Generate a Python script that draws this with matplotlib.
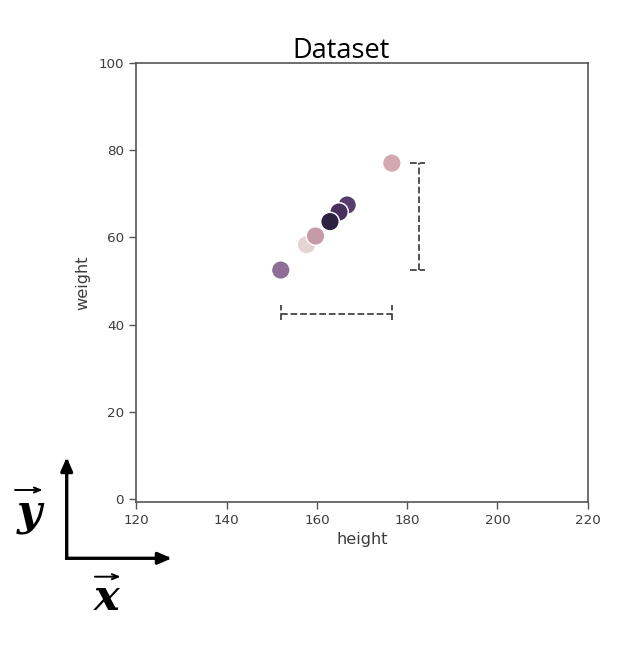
import matplotlib
matplotlib.use("Agg")
import matplotlib.pyplot as plt
import seaborn as sns
import pandas as pd

# values
height = [152.0, 176.6, 166.7, 164.9, 162.9, 157.7, 159.7]
weight = [52.5, 77.0, 67.4, 65.8, 63.6, 58.3, 60.3]
group = ["a", "b", "c", "d", "e", "f", "g"]

# point colours (light-to-dark purple shading of the reference)
point_colors = ["#8f6e96", "#d4a8b0", "#583c6e", "#48305f",
                "#2d2142", "#e6d4d4", "#c49ba6"]

bracket_y = 42.4   # level of the horizontal (height) range bracket
bracket_x = 182.6  # position of the vertical (weight) range bracket

sns.set_style("ticks")
plt.rcParams["font.family"] = ["DejaVu Sans"]

df = pd.DataFrame({"height": height, "weight": weight, "group": group})

fig = plt.figure(figsize=(6.3, 6.54), dpi=100)
ax = fig.add_axes([0.2163, 0.2320, 0.7167, 0.6721])

sns.scatterplot(data=df, x="height", y="weight", hue="group",
                palette=dict(zip(group, point_colors)), s=180,
                legend=False, ax=ax)

# range brackets, dashed
line_kw = dict(color="#444444", linestyle="--", linewidth=1.3)
x0, x1 = min(height), max(height)
ax.plot([x0, x1], [bracket_y, bracket_y], **line_kw)
ax.plot([x0, x0], [bracket_y - 1.3, bracket_y + 2.1], **line_kw)
ax.plot([x1, x1], [bracket_y - 1.3, bracket_y + 2.1], **line_kw)

y0, y1 = min(weight), max(weight)
ax.plot([bracket_x, bracket_x], [y0, y1], **line_kw)
ax.plot([bracket_x - 2.0, bracket_x + 1.4], [y0, y0], **line_kw)
ax.plot([bracket_x - 2.0, bracket_x + 1.4], [y1, y1], **line_kw)

ax.set_xlim(120, 220)
ax.set_ylim(-0.7, 100)
ax.set_xticks([120, 140, 160, 180, 200, 220])
ax.set_yticks([0, 20, 40, 60, 80, 100])
ax.set_xlabel("height", fontsize=11.6, color="#3c3c3c", labelpad=3)
ax.set_ylabel("weight", fontsize=11.6, color="#3c3c3c", labelpad=6)
ax.tick_params(labelsize=9.7, labelcolor="#3c3c3c", color="#555555",
               length=4.8, width=1.0, pad=4)
for sp in ax.spines.values():
    sp.set_color("#555555")
    sp.set_linewidth(1.2)

fig.text(0.5413, 0.9113, "Dataset", fontsize=19.5, family="Open Sans",
         ha="center", va="baseline", color="black")

# coordinate system arrows at the bottom left
H = 654
arrow_kw = dict(arrowstyle="-|>,head_width=0.35,head_length=0.8",
                color="black", lw=2.4, shrinkA=0, shrinkB=0,
                capstyle="projecting")
ax.annotate("", xy=(66.7, H - 457.3), xytext=(66.7, H - 558.3),
            xycoords="figure pixels", textcoords="figure pixels",
            arrowprops=arrow_kw, annotation_clip=False)
ax.annotate("", xy=(171.7, H - 558.3), xytext=(66.7, H - 558.3),
            xycoords="figure pixels", textcoords="figure pixels",
            arrowprops=arrow_kw, annotation_clip=False)

vec_kw = dict(arrowstyle="->,head_width=0.18,head_length=0.45",
              color="black", lw=1.4, shrinkA=0, shrinkB=0)
glyph_kw = dict(family="DejaVu Serif", fontweight="bold", fontstyle="italic",
                fontsize=31, ha="center", va="baseline", color="black")
fig.text(29 / 630, 1 - 525 / H, "y", **glyph_kw)
ax.annotate("", xy=(42.7, H - 490), xytext=(15, H - 490),
            xycoords="figure pixels", textcoords="figure pixels",
            arrowprops=vec_kw, annotation_clip=False)
fig.text(107 / 630, 1 - 610 / H, "x", **glyph_kw)
ax.annotate("", xy=(120.7, H - 576.7), xytext=(95, H - 576.7),
            xycoords="figure pixels", textcoords="figure pixels",
            arrowprops=vec_kw, annotation_clip=False)

fig.savefig("out.png", dpi=100)
